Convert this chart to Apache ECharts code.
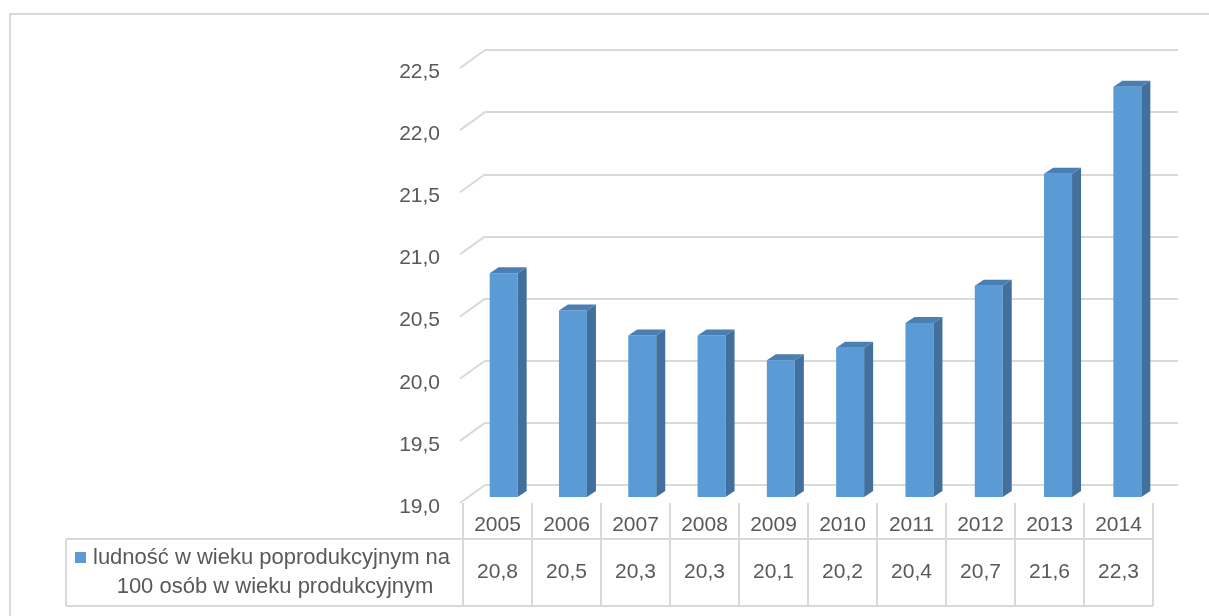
<!DOCTYPE html>
<html>
<head>
<meta charset="utf-8">
<title>ludność w wieku poprodukcyjnym</title>
<script src="https://cdn.jsdelivr.net/npm/echarts@6/dist/echarts.min.js"></script>
<style>
  html, body { margin: 0; padding: 0; background: #fff; }
  #chart { width: 1209px; height: 616px; }
</style>
</head>
<body>
<div id="chart"></div>
<script>
const years = ['2005', '2006', '2007', '2008', '2009', '2010', '2011', '2012', '2013', '2014'];
const values = [20.8, 20.5, 20.3, 20.3, 20.1, 20.2, 20.4, 20.7, 21.6, 22.3];
const yTicks = [19.0, 19.5, 20.0, 20.5, 21.0, 21.5, 22.0, 22.5];
const legendLines = ['ludność w wieku poprodukcyjnym na', '100 osób w wieku produkcyjnym'];

const FONT = '"Liberation Sans", Arial, sans-serif';
const TEXT = '#595959';
const GRID = '#d9d9d9';

const fmt = v => Number(v).toFixed(1).replace('.', ',');

const myChart = echarts.init(document.getElementById('chart'));

// pseudo 3D column: front, side and top faces
function renderBar(params, api) {
  const top = api.coord([api.value(0), api.value(1)]);
  const base = api.coord([api.value(0), yTicks[0]]);
  const cx = top[0] - 16, w = 28, d = 9, h = 6, off = 12;
  const l = cx - w / 2, r = cx + w / 2;
  const yt = top[1] + off, yb = base[1] + off;
  return {
    type: 'group',
    children: [
      { type: 'rect', shape: { x: l, y: yt, width: w, height: yb - yt }, style: { fill: '#5b9bd5' } },
      { type: 'polygon', shape: { points: [[r, yt], [r + d, yt - h], [r + d, yb - h], [r, yb]] }, style: { fill: '#41709c' } },
      { type: 'polygon', shape: { points: [[l, yt], [l + d, yt - h], [r + d, yt - h], [r, yt]] }, style: { fill: '#4a7fb3' } }
    ]
  };
}

// the slanted bits of the gridlines on the side wall
function renderDiag(params, api) {
  const p = api.coord([0, api.value(1)]);
  const x0 = params.coordSys.x;
  return {
    type: 'line',
    shape: { x1: x0 - 25, y1: p[1] + 18, x2: x0, y2: p[1] },
    style: { stroke: GRID, lineWidth: 2 }
  };
}

function line(x1, y1, x2, y2) {
  return { type: 'line', shape: { x1, y1, x2, y2 }, style: { stroke: GRID, lineWidth: 2 } };
}
function text(str, x, y, size, align) {
  return {
    type: 'text',
    style: { text: str, x, y, align: align || 'center', verticalAlign: 'middle', fill: TEXT, font: size + 'px ' + FONT }
  };
}

// data table under the chart
function renderCell(params, api) {
  const cs = params.coordSys;
  const i = api.value(0);
  const c = api.coord([i, 0]);
  const bw = api.size([1, 0])[0];
  const l = c[0] - bw / 2, r = c[0] + bw / 2;
  const yTop = cs.y, yMid = cs.y + 36, yBot = cs.y + cs.height;
  const kids = [
    line(l, yTop, l, yBot),
    text(years[i], c[0], (yTop + yMid) / 2 + 4, 21),
    text(fmt(api.value(1)), c[0], (yMid + yBot) / 2, 21)
  ];
  if (i === values.length - 1) kids.push(line(r, yTop, r, yBot));
  if (i === 0) {
    const x0 = 66, right = cs.x + cs.width;
    kids.push(line(x0, yMid, right, yMid));
    kids.push(line(x0, yBot, right, yBot));
    kids.push(line(x0, yMid, x0, yBot));
    kids.push({ type: 'rect', shape: { x: 75, y: yMid + 13, width: 11, height: 11 }, style: { fill: '#5b9bd5' } });
    kids.push(text(legendLines[0], 93, yMid + 19, 22, 'left'));
    kids.push(text(legendLines[1], 275, yMid + 48, 22));
  }
  return { type: 'group', children: kids };
}

const option = {
  animation: false,
  backgroundColor: '#fff',
  graphic: [{
    type: 'rect',
    shape: { x: 10, y: 14, width: 1300, height: 700 },
    style: { fill: null, stroke: GRID, lineWidth: 2 },
    z: -1
  }],
  grid: [
    { left: 485, right: 31, top: 50, bottom: 131 },
    { left: 463, right: 56, top: 503, bottom: 10 }
  ],
  xAxis: [
    { type: 'category', data: years, gridIndex: 0, show: false },
    { type: 'category', data: years, gridIndex: 1, show: false }
  ],
  yAxis: [
    {
      type: 'value', gridIndex: 0,
      min: 19, max: 22.5, interval: 0.5,
      axisLine: { show: false }, axisTick: { show: false },
      splitLine: { lineStyle: { color: GRID, width: 2 } },
      axisLabel: {
        formatter: fmt, color: TEXT, fontSize: 21, fontFamily: FONT,
        margin: 45, verticalAlign: 'top', lineHeight: 44
      }
    },
    { type: 'value', gridIndex: 1, min: 0, max: 30, show: false }
  ],
  series: [
    {
      name: 'diag', type: 'custom', xAxisIndex: 0, yAxisIndex: 0,
      renderItem: renderDiag, silent: true,
      data: yTicks.map(v => [0, v])
    },
    {
      name: legendLines.join(' '), type: 'custom', xAxisIndex: 0, yAxisIndex: 0,
      renderItem: renderBar,
      data: values.map((v, i) => [i, v])
    },
    {
      name: 'tabela', type: 'custom', xAxisIndex: 1, yAxisIndex: 1,
      renderItem: renderCell, silent: true,
      data: values.map((v, i) => [i, v])
    }
  ]
};

myChart.setOption(option);
</script>
</body>
</html>
